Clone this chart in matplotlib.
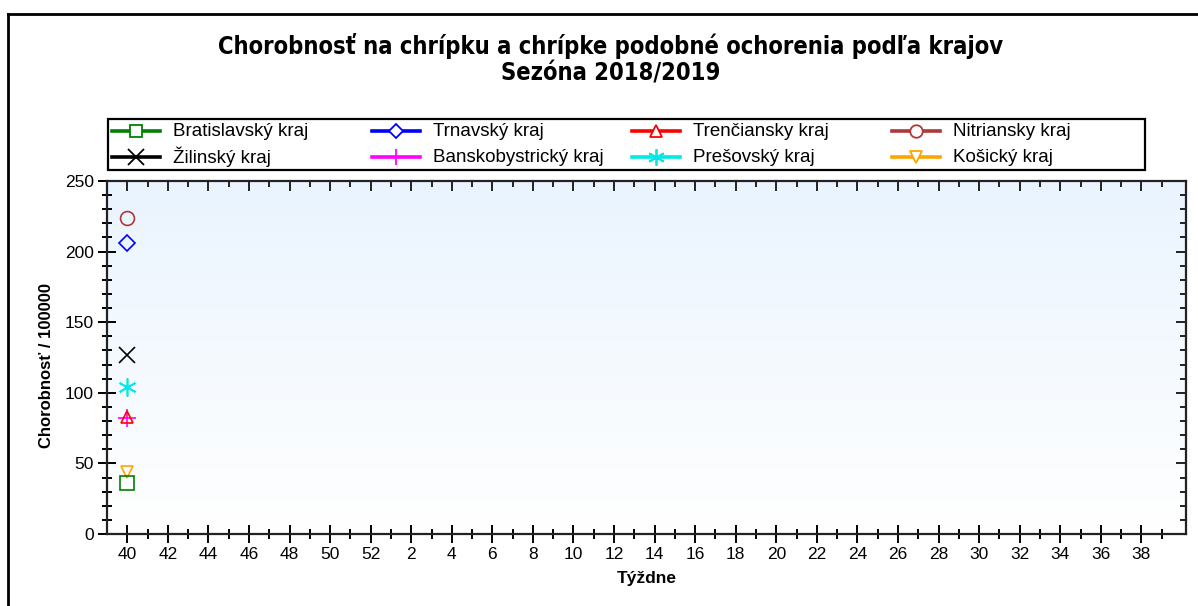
import numpy as np
import matplotlib
matplotlib.use("Agg")
import matplotlib.pyplot as plt
from matplotlib.lines import Line2D
from matplotlib.patches import Rectangle
from matplotlib.ticker import FixedLocator, MultipleLocator
from matplotlib.colors import LinearSegmentedColormap

plt.rcParams['font.family'] = ['Liberation Sans', 'DejaVu Sans']

# ---- data ----
weeks = list(range(40, 53)) + list(range(1, 40))
tick_labels = [str(w) for w in weeks]
regions = ["Bratislavský kraj", "Trnavský kraj", "Trenčiansky kraj", "Nitriansky kraj",
           "Žilinský kraj", "Banskobystrický kraj", "Prešovský kraj", "Košický kraj"]
values_week40 = [36, 206, 83, 224, 127, 82, 104, 44]
colors = ["#008000", "#0000FF", "#FF0000", "#B03838", "#000000", "#FF00FF", "#00E8E8", "#FFA500"]
markers = ["s", "D", "^", "o", "x", "+", (6, 2, 0), "v"]
msizes = [10, 8, 9, 10, 12, 13, 13, 9]

title = "Chorobnosť na chrípku a chrípke podobné ochorenia podľa krajov\nSezóna 2018/2019"
ylabel = "Chorobnosť / 100000"
xlabel = "Týždne"

fig = plt.figure(figsize=(11.98, 6.06), dpi=100)
W, H = 1198, 606
pos = [107 / W, 1 - 534 / H, (1186 - 107) / W, (534 - 181) / H]
ax = fig.add_axes(pos)

xmin, xmax = -1.0, 52.2
ymin, ymax = 0, 250
ax.set_xlim(xmin, xmax)
ax.set_ylim(ymin, ymax)

# gradient background
grad = np.linspace(0, 1, 256).reshape(-1, 1)
cmap = LinearSegmentedColormap.from_list("bg", ["#FFFFFF", "#EAF4FE"])
ax.imshow(grad, extent=[xmin, xmax, ymin, ymax], origin="lower", aspect="auto",
          cmap=cmap, zorder=0)

def is_filled(m):
    return m in ("x", "+") or isinstance(m, tuple)

# draw in reverse so earlier series sit on top
for i in reversed(range(len(regions))):
    c, m, ms = colors[i], markers[i], msizes[i]
    ax.plot([0], [values_week40[i]], linestyle="none", marker=m, markersize=ms, color=c,
            markerfacecolor=(c if is_filled(m) else "none"), markeredgewidth=1.2, zorder=3)

# ticks (bottom/left: crossing the axis)
idx = np.arange(len(weeks))
ax.xaxis.set_major_locator(FixedLocator(idx[::2]))
ax.set_xticklabels(tick_labels[::2])
ax.xaxis.set_minor_locator(FixedLocator(idx[1::2]))
ax.yaxis.set_major_locator(MultipleLocator(50))
ax.yaxis.set_minor_locator(MultipleLocator(10))
ax.tick_params(axis="both", which="major", direction="inout", length=13, width=1.4,
               labelsize=12.5, colors="black")
ax.tick_params(axis="both", which="minor", direction="inout", length=7, width=1.4)
ax.tick_params(axis="x", which="major", pad=3)
ax.tick_params(axis="y", which="major", pad=3)
for s in ax.spines.values():
    s.set_linewidth(1.6)
    s.set_color("#222222")

# top/right: inward ticks only
ax2 = fig.add_axes(pos, frameon=False)
ax2.set_xlim(xmin, xmax)
ax2.set_ylim(ymin, ymax)
ax2.xaxis.set_major_locator(FixedLocator(idx[::2]))
ax2.xaxis.set_minor_locator(FixedLocator(idx[1::2]))
ax2.yaxis.set_major_locator(MultipleLocator(50))
ax2.yaxis.set_minor_locator(MultipleLocator(10))
ax2.tick_params(axis="both", which="both", direction="in", bottom=False, left=False,
                top=True, right=True, labelbottom=False, labelleft=False,
                labeltop=False, labelright=False, width=1.4, colors="#222222")
ax2.tick_params(axis="both", which="major", length=7)
ax2.tick_params(axis="both", which="minor", length=4)
ax2.patch.set_visible(False)

ax.set_ylabel(ylabel, fontsize=12, fontweight="bold")
ax.yaxis.set_label_coords(-0.049, 0.478)
ax.set_xlabel(xlabel, fontsize=12.5, fontweight="bold", labelpad=6)

fig.text(611 / W, 1 - 59 / H, title, ha="center", va="center", fontsize=17,
         fontweight="bold", linespacing=1.15, family="DejaVu Sans", fontstretch="condensed")

# legend (manual layout to match equal column grid)
fig.add_artist(Rectangle((108 / W, 1 - 170 / H), (1145 - 108) / W, (170 - 119) / H,
                         transform=fig.transFigure, fill=True, facecolor="white",
                         edgecolor="black", linewidth=1.6))
col_x = [112, 372, 632, 892]
row_y = [131, 157]
for k in range(len(regions)):
    r, cidx = divmod(k, 4)
    x0 = col_x[cidx]
    y = 1 - row_y[r] / H
    c, m = colors[k], markers[k]
    fig.add_artist(Line2D([x0 / W, (x0 + 48) / W], [y, y], transform=fig.transFigure,
                          color=c, linewidth=2.6))
    fig.add_artist(Line2D([(x0 + 24) / W], [y], transform=fig.transFigure, color=c,
                          marker=m, markersize=msizes[k] - 1,
                          markerfacecolor=(c if is_filled(m) else "white"),
                          markeredgewidth=1.3, linestyle="none"))
    fig.text((x0 + 61) / W, y, regions[k], ha="left", va="center", fontsize=13.5,
             color="black")

# outer frame
fig.add_artist(Line2D([8 / W, 1.0], [1 - 14 / H, 1 - 14 / H], transform=fig.transFigure,
                      color="black", linewidth=2))
fig.add_artist(Line2D([8 / W, 8 / W], [1 - 14 / H, 0], transform=fig.transFigure,
                      color="black", linewidth=2))

fig.savefig("out.png", dpi=100)
